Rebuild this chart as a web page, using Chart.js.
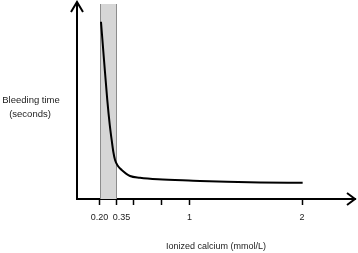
<!DOCTYPE html>
<html>
<head>
<meta charset="utf-8">
<script src="https://cdn.jsdelivr.net/npm/chart.js@4"></script>
<style>
  html, body { margin: 0; padding: 0; background: #fff; }
  #wrap { width: 358px; height: 253px; }
</style>
</head>
<body>
<div id="wrap"><canvas id="bleedChart"></canvas></div>
<script>
// values (y is unitless, schematic)
const calciumX = [0.213, 0.240, 0.269, 0.291, 0.308, 0.323, 0.338, 0.364, 0.397, 0.471, 0.560, 0.720, 1.031, 1.333, 1.626, 2.005];
const bleedY   = [90.9, 71.3, 50.8, 38.0, 30.3, 24.1, 20.0, 16.9, 14.9, 11.8, 10.9, 10.1, 9.4, 8.8, 8.5, 8.3];
const tickValues = [0.20, 0.35, 0.5, 0.75, 1, 2];
const tickLabels = ['0.20', '    0.35', '', '', '1', '2'];
const bandRange = [0.20, 0.35];
const xTitle = 'Ionized calcium (mmol/L)';
const yTitleLines = ['Bleeding time', '(seconds)'];

const FONT = '"Liberation Sans", Arial, sans-serif';

// shaded normal range
const bandPlugin = {
  id: 'band',
  beforeDatasetsDraw(chart) {
    const {ctx, chartArea, scales} = chart;
    const x0 = Math.round(scales.x.getPixelForValue(bandRange[0])) + 0.5;
    const x1 = Math.round(scales.x.getPixelForValue(bandRange[1])) + 0.5;
    ctx.save();
    ctx.fillStyle = '#d6d6d6';
    ctx.fillRect(x0, chartArea.top, x1 - x0, chartArea.bottom - chartArea.top);
    ctx.strokeStyle = '#8c8c8c';
    ctx.lineWidth = 1;
    ctx.beginPath();
    ctx.moveTo(x0, chartArea.top); ctx.lineTo(x0, chartArea.bottom);
    ctx.moveTo(x1, chartArea.top); ctx.lineTo(x1, chartArea.bottom);
    ctx.stroke();
    ctx.restore();
  }
};

// arrow heads + horizontal y title
const axesPlugin = {
  id: 'axesDeco',
  afterDraw(chart) {
    const {ctx, chartArea} = chart;
    const l = chartArea.left, b = chartArea.bottom, t = chartArea.top, r = chartArea.right;
    ctx.save();
    ctx.strokeStyle = '#000';
    ctx.lineWidth = 2;
    ctx.beginPath();
    ctx.moveTo(l, t); ctx.lineTo(l, t - 2);
    ctx.stroke();
    ctx.beginPath();
    ctx.moveTo(l - 6, t + 8); ctx.lineTo(l, t - 2); ctx.lineTo(l + 6, t + 8);
    ctx.stroke();
    ctx.beginPath();
    ctx.moveTo(r - 8, b - 6); ctx.lineTo(r, b); ctx.lineTo(r - 8, b + 6);
    ctx.stroke();

    ctx.fillStyle = '#222';
    ctx.font = '9.5px ' + FONT;
    ctx.textAlign = 'center';
    ctx.textBaseline = 'middle';
    ctx.fillText(yTitleLines[0], 31, 100);
    ctx.fillText(yTitleLines[1], 30, 114);
    ctx.restore();
  }
};

new Chart(document.getElementById('bleedChart'), {
  type: 'line',
  data: {
    datasets: [{
      data: calciumX.map((x, i) => ({x: x, y: bleedY[i]})),
      borderColor: '#000',
      borderWidth: 2,
      pointRadius: 0,
      fill: false,
      cubicInterpolationMode: 'monotone',
    }]
  },
  options: {
    responsive: true,
    maintainAspectRatio: false,
    animation: false,
    layout: { padding: { left: 77, top: 4, right: 3, bottom: 0 } },
    plugins: { legend: { display: false }, tooltip: { enabled: false } },
    scales: {
      x: {
        type: 'linear',
        min: 0,
        max: 2.47,
        afterFit(scale) { scale.height = 54; },
        afterBuildTicks(scale) { scale.ticks = tickValues.map(v => ({value: v})); },
        border: { display: true, color: '#000', width: 2 },
        grid: { drawOnChartArea: false, drawTicks: true, tickLength: 6, color: '#000', tickWidth: 1.5 },
        ticks: {
          autoSkip: false,
          maxRotation: 0,
          padding: 7,
          color: '#222',
          font: { family: FONT, size: 9 },
          callback: (v, i) => tickLabels[i],
        },
        title: {
          display: true,
          text: xTitle,
          color: '#222',
          font: { family: FONT, size: 9 },
          padding: { top: 0, bottom: 1 },
        }
      },
      y: {
        min: 0,
        max: 100,
        afterFit(scale) { scale.width = 0; },
        border: { display: true, color: '#000', width: 2 },
        grid: { display: false },
        ticks: { display: false },
      }
    }
  },
  plugins: [bandPlugin, axesPlugin]
});
</script>
</body>
</html>
